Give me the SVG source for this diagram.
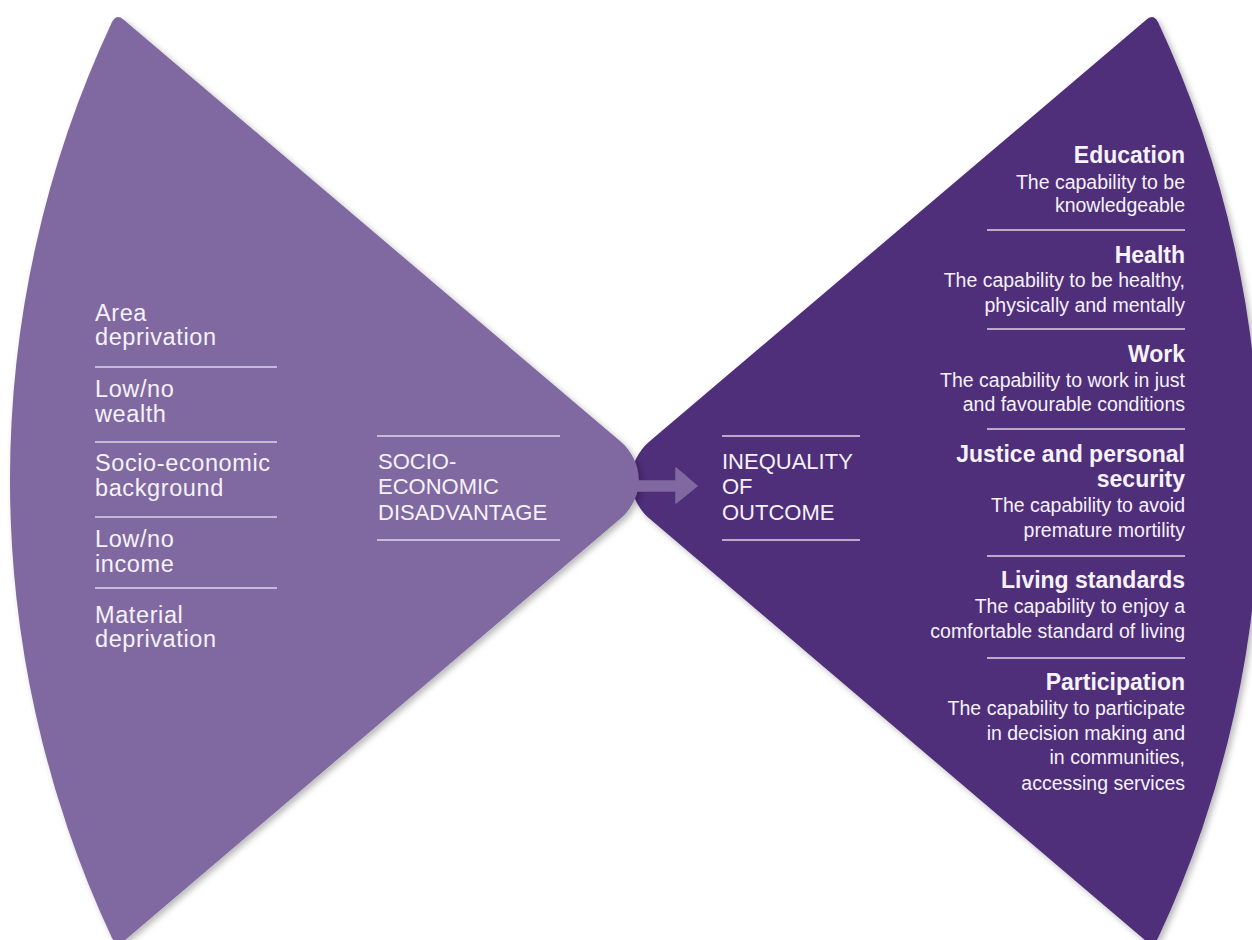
<svg xmlns="http://www.w3.org/2000/svg" width="1252" height="940" viewBox="0 0 1252 940">
<defs>
<filter id="sh" x="-10%" y="-10%" width="120%" height="120%">
<feDropShadow dx="3" dy="3" stdDeviation="3" flood-color="#000" flood-opacity="0.28"/>
</filter>
<style>
.t{font-family:"Liberation Sans",Arial,sans-serif;fill:#f6f2fa}
.l{font-size:23.5px}
.c{font-size:22px}
.h{font-size:23px;font-weight:bold;text-anchor:end}
.d{font-size:19.5px;text-anchor:end}
.sep{stroke:#ddd5e8;stroke-width:1.5}
</style>
</defs>
<rect width="1252" height="940" fill="#ffffff"/>
<g id="outcome-shape">
<path d="M 1146,20 L 650,441 C 625,462 625,498 650,519 L 1146,941 Q 1153,947 1158,938 A 1079 1079 0 0 0 1158,22 Q 1153,13 1146,20 Z" fill="#4f2e7a" filter="url(#sh)"/>
</g>
<g id="disadvantage-shape">
<path d="M 124,20 L 620,441 C 645,462 645,498 620,519 L 124,941 Q 117,947 112,938 A 1079 1079 0 0 1 112,22 Q 117,13 124,20 Z" fill="#8069a1" filter="url(#sh)"/>
</g>
<g id="connectors">
<path d="M 633,481 L 676,481 L 676,468 L 697,486 L 676,503 L 676,491 L 633,491 Z" fill="#8069a1" stroke="#8069a1" stroke-width="1.5" stroke-linejoin="round"/>
</g>
<g id="factors">
<text class="t l" x="95" y="321" letter-spacing="0.6">Area<tspan x="95" dy="24">deprivation</tspan></text>
<line class="sep" x1="95" y1="367" x2="277" y2="367"/>
<text class="t l" x="95" y="397" letter-spacing="0.6">Low/no<tspan x="95" dy="25">wealth</tspan></text>
<line class="sep" x1="95" y1="442" x2="277" y2="442"/>
<text class="t l" x="95" y="471" letter-spacing="0.6">Socio-economic<tspan x="95" dy="24.5">background</tspan></text>
<line class="sep" x1="95" y1="517" x2="277" y2="517"/>
<text class="t l" x="95" y="547" letter-spacing="0.6">Low/no<tspan x="95" dy="25">income</tspan></text>
<line class="sep" x1="95" y1="588" x2="277" y2="588"/>
<text class="t l" x="95" y="623" letter-spacing="0.6">Material<tspan x="95" dy="24">deprivation</tspan></text>
</g>
<g id="socio-economic-disadvantage">
<line class="sep" x1="377" y1="436" x2="560" y2="436"/>
<text class="t c" x="378" y="469">SOCIO-</text>
<text class="t c" x="378" y="494">ECONOMIC</text>
<text class="t c" x="378" y="520">DISADVANTAGE</text>
<line class="sep" x1="377" y1="540" x2="560" y2="540"/>
</g>
<g id="inequality-of-outcome">
<line class="sep" x1="722" y1="436" x2="860" y2="436"/>
<text class="t c" x="722" y="469">INEQUALITY</text>
<text class="t c" x="722" y="494">OF</text>
<text class="t c" x="722" y="520">OUTCOME</text>
<line class="sep" x1="722" y1="540" x2="860" y2="540"/>
</g>
<g id="education">
<text class="t h" x="1185" y="163">Education</text>
<text class="t d" x="1185" y="189">The capability to be</text>
<text class="t d" x="1185" y="212">knowledgeable</text>
</g>
<line class="sep" x1="987" y1="230" x2="1185" y2="230"/>
<g id="health">
<text class="t h" x="1185" y="263">Health</text>
<text class="t d" x="1185" y="287">The capability to be healthy,</text>
<text class="t d" x="1185" y="312">physically and mentally</text>
</g>
<line class="sep" x1="987" y1="329" x2="1185" y2="329"/>
<g id="work">
<text class="t h" x="1185" y="362">Work</text>
<text class="t d" x="1185" y="387">The capability to work in just</text>
<text class="t d" x="1185" y="411">and favourable conditions</text>
</g>
<line class="sep" x1="987" y1="429" x2="1185" y2="429"/>
<g id="justice">
<text class="t h" x="1185" y="462">Justice and personal</text>
<text class="t h" x="1185" y="487">security</text>
<text class="t d" x="1185" y="512">The capability to avoid</text>
<text class="t d" x="1185" y="537">premature mortility</text>
</g>
<line class="sep" x1="987" y1="556" x2="1185" y2="556"/>
<g id="living-standards">
<text class="t h" x="1185" y="588">Living standards</text>
<text class="t d" x="1185" y="613">The capability to enjoy a</text>
<text class="t d" x="1185" y="638">comfortable standard of living</text>
</g>
<line class="sep" x1="987" y1="658" x2="1185" y2="658"/>
<g id="participation">
<text class="t h" x="1185" y="690">Participation</text>
<text class="t d" x="1185" y="715">The capability to participate</text>
<text class="t d" x="1185" y="740">in decision making and</text>
<text class="t d" x="1185" y="764">in communities,</text>
<text class="t d" x="1185" y="790">accessing services</text>
</g>
</svg>
